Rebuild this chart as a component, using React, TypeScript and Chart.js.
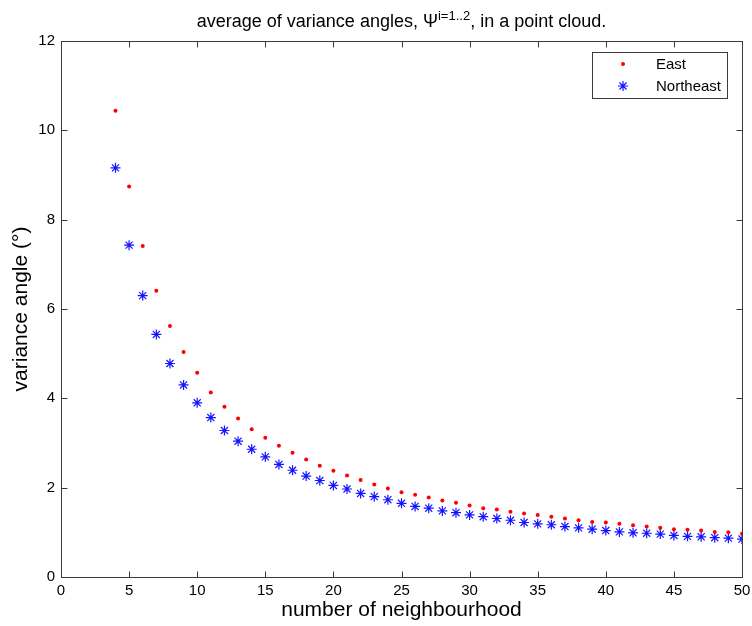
import { useEffect, useRef } from "react";
import { Chart, registerables } from "chart.js";

Chart.register(...registerables);

const neighbourhood = [4, 5, 6, 7, 8, 9, 10, 11, 12, 13, 14, 15, 16, 17, 18, 19, 20, 21, 22, 23, 24, 25, 26, 27, 28, 29, 30, 31, 32, 33, 34, 35, 36, 37, 38, 39, 40, 41, 42, 43, 44, 45, 46, 47, 48, 49, 50];

const east = [10.44, 8.74, 7.41, 6.41, 5.62, 5.04, 4.57, 4.13, 3.81, 3.55, 3.31, 3.12, 2.94, 2.78, 2.63, 2.49, 2.38, 2.27, 2.17, 2.07, 1.98, 1.9, 1.84, 1.78, 1.71, 1.66, 1.6, 1.54, 1.51, 1.46, 1.42, 1.39, 1.35, 1.31, 1.27, 1.23, 1.22, 1.19, 1.16, 1.13, 1.1, 1.07, 1.06, 1.04, 1.01, 1.0, 0.97];

const northeast = [9.16, 7.43, 6.3, 5.43, 4.78, 4.3, 3.9, 3.57, 3.28, 3.04, 2.86, 2.69, 2.52, 2.39, 2.26, 2.16, 2.05, 1.97, 1.87, 1.8, 1.73, 1.65, 1.58, 1.54, 1.48, 1.44, 1.39, 1.35, 1.31, 1.27, 1.22, 1.19, 1.17, 1.13, 1.1, 1.07, 1.04, 1.01, 0.99, 0.98, 0.96, 0.93, 0.91, 0.9, 0.88, 0.87, 0.85];

const xTicks = [0, 5, 10, 15, 20, 25, 30, 35, 40, 45, 50];
const yTicks = [0, 2, 4, 6, 8, 10, 12];

const seriesNames = ["East", "Northeast"];
const titleMain = "average of variance angles, Ψ";
const titleSup = "i=1..2";
const titleEnd = ", in a point cloud.";
const xTitle = "number of neighbourhood";
const yTitle = "variance angle (°)";

const FONT = "'Liberation Sans', Arial, Helvetica, sans-serif";
const RED = "#ff0000";
const BLUE = "#1414ff";
const AXIS = "#3a3a3a";

function drawMarker(ctx: CanvasRenderingContext2D, style: string, r: number, x: number, y: number) {
  if (style === "star") {
    ctx.beginPath();
    ctx.moveTo(x - r, y);
    ctx.lineTo(x + r, y);
    ctx.moveTo(x, y - r);
    ctx.lineTo(x, y + r);
    const d = r * Math.SQRT1_2;
    ctx.moveTo(x - d, y - d);
    ctx.lineTo(x + d, y + d);
    ctx.moveTo(x - d, y + d);
    ctx.lineTo(x + d, y - d);
    ctx.stroke();
  } else {
    ctx.beginPath();
    ctx.arc(x, y, r, 0, Math.PI * 2);
    ctx.fill();
  }
}

const framePlugin = {
  id: "matlabFrame",
  afterDraw(chart: any) {
    const { ctx, chartArea } = chart;
    const { left, right, top, bottom } = chartArea;
    const xs = chart.scales.x;
    const ys = chart.scales.y;
    ctx.save();
    ctx.strokeStyle = AXIS;
    ctx.lineWidth = 1;
    const L = Math.round(left) + 0.5;
    const R = Math.round(right) + 0.5;
    const T = Math.round(top) + 0.5;
    const B = Math.round(bottom) + 0.5;
    ctx.strokeRect(L, T, R - L, B - T);
    const tl = 6;
    ctx.beginPath();
    xTicks.forEach((v) => {
      const px = Math.round(xs.getPixelForValue(v)) + 0.5;
      ctx.moveTo(px, B);
      ctx.lineTo(px, B - tl);
      ctx.moveTo(px, T);
      ctx.lineTo(px, T + tl);
    });
    yTicks.forEach((v) => {
      const py = Math.round(ys.getPixelForValue(v)) + 0.5;
      ctx.moveTo(L, py);
      ctx.lineTo(L + tl, py);
      ctx.moveTo(R, py);
      ctx.lineTo(R - tl, py);
    });
    ctx.stroke();

    // title with superscript
    const mainFont = `18px ${FONT}`;
    const supFont = `13px ${FONT}`;
    ctx.fillStyle = "#000";
    ctx.textBaseline = "alphabetic";
    ctx.textAlign = "left";
    ctx.font = mainFont;
    const w1 = ctx.measureText(titleMain).width;
    const w3 = ctx.measureText(titleEnd).width;
    ctx.font = supFont;
    const w2 = ctx.measureText(titleSup).width;
    const total = w1 + w2 + w3;
    const cx = (left + right) / 2;
    let x0 = cx - total / 2;
    const baseY = 27;
    ctx.font = mainFont;
    ctx.fillText(titleMain, x0, baseY);
    x0 += w1;
    ctx.font = supFont;
    ctx.fillText(titleSup, x0, baseY - 7);
    x0 += w2;
    ctx.font = mainFont;
    ctx.fillText(titleEnd, x0, baseY);

    // legend
    const bx = 592.5, by = 52.5, bw = 135, bh = 46;
    ctx.fillStyle = "#fff";
    ctx.fillRect(bx, by, bw, bh);
    ctx.strokeStyle = AXIS;
    ctx.strokeRect(bx, by, bw, bh);
    const rows = [64, 86];
    chart.data.datasets.forEach((ds: any, i: number) => {
      const y = rows[i];
      ctx.save();
      if (ds.pointStyle === "star") {
        ctx.strokeStyle = ds.borderColor;
        ctx.lineWidth = ds.borderWidth;
      } else {
        ctx.fillStyle = ds.backgroundColor;
      }
      drawMarker(ctx, ds.pointStyle, ds.pointRadius, 623, y);
      ctx.restore();
      ctx.fillStyle = "#000";
      ctx.font = `15px ${FONT}`;
      ctx.textBaseline = "middle";
      ctx.textAlign = "left";
      ctx.fillText(ds.label, 656, y + 1);
    });
    ctx.restore();
  },
};

export default function App() {
  const ref = useRef<HTMLCanvasElement | null>(null);
  useEffect(() => {
    if (!ref.current) return;
    const chart = new Chart(ref.current, {
      type: "scatter",
      data: {
        datasets: [
          {
            label: seriesNames[0],
            data: neighbourhood.map((n, i) => ({ x: n, y: east[i] })),
            pointStyle: "circle",
            pointRadius: 2,
            backgroundColor: RED,
            borderColor: RED,
            borderWidth: 0,
            showLine: false,
          },
          {
            label: seriesNames[1],
            data: neighbourhood.map((n, i) => ({ x: n, y: northeast[i] })),
            pointStyle: "star",
            pointRadius: 5,
            backgroundColor: BLUE,
            borderColor: BLUE,
            borderWidth: 1.2,
            showLine: false,
          },
        ],
      },
      options: {
        animation: false,
        responsive: false,
        maintainAspectRatio: false,
        layout: { padding: { top: 41, right: 10, left: 0, bottom: 0 } },
        plugins: {
          legend: { display: false },
          title: { display: false },
          tooltip: { enabled: false },
        },
        scales: {
          x: {
            type: "linear",
            min: 0,
            max: 50,
            grid: { display: false, drawTicks: false },
            border: { display: false },
            afterBuildTicks: (s: any) => {
              s.ticks = xTicks.map((v) => ({ value: v }));
            },
            afterFit: (s: any) => {
              s.height = 49;
              s.paddingLeft = 0;
              s.paddingRight = 0;
            },
            ticks: {
              color: "#000",
              font: { family: FONT, size: 15 },
              padding: 5,
              maxRotation: 0,
              autoSkip: false,
            },
            title: {
              display: true,
              text: xTitle,
              color: "#000",
              font: { family: FONT, size: 21 },
              padding: { top: 0, bottom: 3 },
            },
          },
          y: {
            type: "linear",
            min: 0,
            max: 12,
            grid: { display: false, drawTicks: false },
            border: { display: false },
            afterBuildTicks: (s: any) => {
              s.ticks = yTicks.map((v) => ({ value: v }));
            },
            afterFit: (s: any) => {
              s.width = 61;
              s.paddingTop = 0;
              s.paddingBottom = 0;
            },
            ticks: {
              color: "#000",
              font: { family: FONT, size: 15 },
              padding: 6,
              autoSkip: false,
            },
            title: {
              display: true,
              text: yTitle,
              color: "#000",
              font: { family: FONT, size: 21 },
              padding: { top: 9, bottom: 0 },
            },
          },
        },
      },
      plugins: [framePlugin],
    });
    return () => chart.destroy();
  }, []);
  return (
    <div style={{ position: "fixed", left: 0, top: 0, width: 752, height: 626, background: "#fff" }}>
      <canvas ref={ref} width={752} height={626} style={{ width: 752, height: 626, display: "block" }} />
    </div>
  );
}
